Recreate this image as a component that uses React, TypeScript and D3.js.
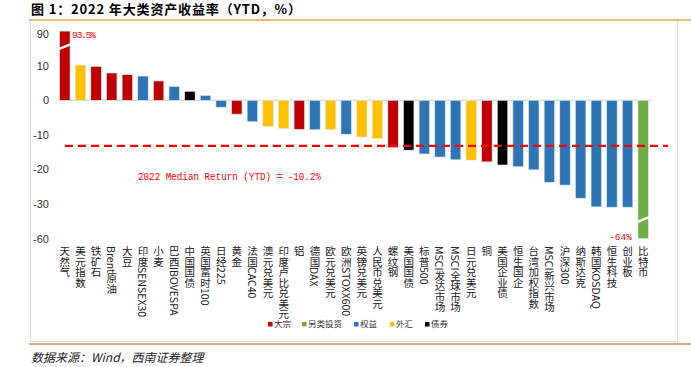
import React from "react";
import * as d3 from "d3";

const categories = [
  "天然气", "美元指数", "铁矿石", "Brent原油", "大豆", "印度SENSEX30", "小麦", "巴西IBOVESPA",
  "中国国债", "英国富时100", "日经225", "黄金", "法国CAC40", "澳元兑美元", "印度卢比兑美元", "铝",
  "德国DAX", "欧元兑美元", "欧洲STOXX600", "英镑兑美元", "人民币兑美元", "螺纹钢", "美国国债", "标普500",
  "MSCI发达市场", "MSCI全球市场", "日元兑美元", "铜", "美国企业债", "恒生国企", "台湾加权指数", "MSCI新兴市场",
  "沪深300", "纳斯达克", "韩国KOSDAQ", "恒生科技", "创业板", "比特币",
];
const values = [
  93.5, 10.2, 9.8, 7.9, 7.4, 7.0, 5.6, 4.0,
  2.6, 1.4, -2.0, -4.0, -6.2, -7.6, -8.2, -8.4,
  -8.5, -8.5, -9.8, -10.6, -11.0, -13.7, -14.4, -15.5,
  -16.4, -17.2, -17.3, -17.8, -18.7, -19.2, -20.1, -23.7,
  -24.5, -28.3, -30.8, -30.9, -30.9, -64,
];
const assetClass = [
  "大宗", "外汇", "大宗", "大宗", "大宗", "权益", "大宗", "权益",
  "债券", "权益", "权益", "大宗", "权益", "外汇", "外汇", "大宗",
  "权益", "外汇", "权益", "外汇", "外汇", "大宗", "债券", "权益",
  "权益", "权益", "外汇", "大宗", "债券", "权益", "权益", "权益",
  "权益", "权益", "权益", "权益", "权益", "另类投资",
];
const legendItems = ["大宗", "另类投资", "权益", "外汇", "债券"];
const legendColors = ["#C00000", "#70AD47", "#2E75B6", "#FFC000", "#000000"];
const tickValues = [20, 10, 0, -10, -20, -30, -40];
const tickLabels = ["90", "10", "0", "-10", "-20", "-30", "-60"];
const medianValue = -13.2;
const medianLabel = "2022 Median Return (YTD) = -10.2%";

const W = 691;
const H = 367;

export default function App() {
  const x = d3.scaleBand<string>().domain(categories).range([57, 651]).paddingInner(0.33).paddingOuter(0.165);
  const y = d3.scaleLinear().domain([20, -40]).range([31.1, 238.7]);
  const color = d3.scaleOrdinal<string, string>().domain(legendItems).range(legendColors);
  const clamp = (v: number) => Math.max(-40, Math.min(20, v));
  const bw = x.bandwidth();

  const legendX = [268, 302, 354, 390, 425];

  return (
    <svg width={W} height={H} style={{ position: "absolute", left: 0, top: 0, background: "#fff" }}
      fontFamily="'Liberation Sans', Arial, sans-serif">
      {/* title */}
      <text x={31} y={14} fontSize={13} fontWeight="bold" fill="#000" textLength={270}
        fontFamily="'Noto Sans CJK SC', sans-serif">图 1：2022 年大类资产收益率（YTD，%）</text>
      <line x1={29} x2={W} y1={20} y2={20} stroke="#D9A55B" strokeWidth={1.5} />
      {/* frame */}
      <line x1={30.5} x2={30.5} y1={21} y2={342} stroke="#D9D9D9" />
      <line x1={677.5} x2={677.5} y1={21} y2={342} stroke="#D9D9D9" />
      <line x1={30} x2={678} y1={341.5} y2={341.5} stroke="#D9D9D9" />
      <line x1={29} x2={W} y1={344} y2={344} stroke="#D4B07E" strokeWidth={2} />
      <text x={31} y={362} fontSize={12} fontStyle="italic" fill="#222"
        fontFamily="'Noto Sans CJK SC', sans-serif">数据来源：Wind，西南证券整理</text>

      {/* y tick labels */}
      {tickValues.map((t, i) => (
        <text key={t} x={49} y={y(t) + (i === 0 ? 3.5 : 0)} dy="0.35em" textAnchor="end" fontSize={11} fill="#333">
          {tickLabels[i]}
        </text>
      ))}

      {/* zero line */}
      <line x1={57} x2={651} y1={y(0)} y2={y(0)} stroke="#D9D9D9" strokeWidth={1.2} />

      {/* bars */}
      {categories.map((c, i) => {
        const v = clamp(values[i]);
        const y0 = y(0);
        const y1 = y(v);
        return (
          <rect key={c} x={x(c)} y={Math.min(y0, y1)} width={bw} height={Math.abs(y1 - y0)}
            fill={color(assetClass[i])} stroke="#DEEBF7" strokeWidth={0.6} />
        );
      })}

      {/* axis breaks */}
      {categories.map((c, i) => {
        if (values[i] <= 20 && values[i] >= -40) return null;
        const bx = x(c)!;
        const by = values[i] > 0 ? y(15.5) : y(-34.5);
        return (
          <line key={"b" + c} x1={bx - 1} x2={bx + bw + 1} y1={by + 2.5} y2={by - 2.5}
            stroke="#fff" strokeWidth={2.5} />
        );
      })}

      {/* value labels for broken bars */}
      <text x={x(categories[0])! + bw + 2} y={y(clamp(values[0])) + 4} dy="0.35em" fontSize={9.5}
        fill="#FF0000" fontFamily="'Liberation Mono', monospace" textLength={24}>{values[0]}%</text>
      <text x={x(categories[categories.length - 1])! - 6} y={y(clamp(values[values.length - 1]))} dy="0.1em"
        textAnchor="end" fontSize={9.5} fill="#FF0000" fontFamily="'Liberation Mono', monospace">
        {values[values.length - 1]}%
      </text>

      {/* median line */}
      <line x1={65} x2={668} y1={y(medianValue)} y2={y(medianValue)} stroke="#FF0000" strokeWidth={2.2}
        strokeDasharray="8,5" />
      <text x={138} y={y(-21.9)} dy="0.35em" fontSize={10} fill="#FF0000"
        fontFamily="'Liberation Mono', monospace" textLength={183} lengthAdjust="spacingAndGlyphs">{medianLabel}</text>

      {/* category labels */}
      {categories.map((c) => (
        <text key={"l" + c} x={x(c)! + bw / 2} y={246} fontSize={10.5} fill="#222"
          style={{ writingMode: "vertical-rl" }} fontFamily="'Noto Sans CJK SC', sans-serif">{c}</text>
      ))}

      {/* legend */}
      {legendItems.map((l, i) => (
        <g key={l}>
          <rect x={legendX[i]} y={322} width={4.5} height={4.5} fill={legendColors[i]} />
          <text x={legendX[i] + 6} y={324.5} dy="0.35em" fontSize={8.5} fill="#333"
            fontFamily="'Noto Sans CJK SC', sans-serif">{l}</text>
        </g>
      ))}
    </svg>
  );
}
